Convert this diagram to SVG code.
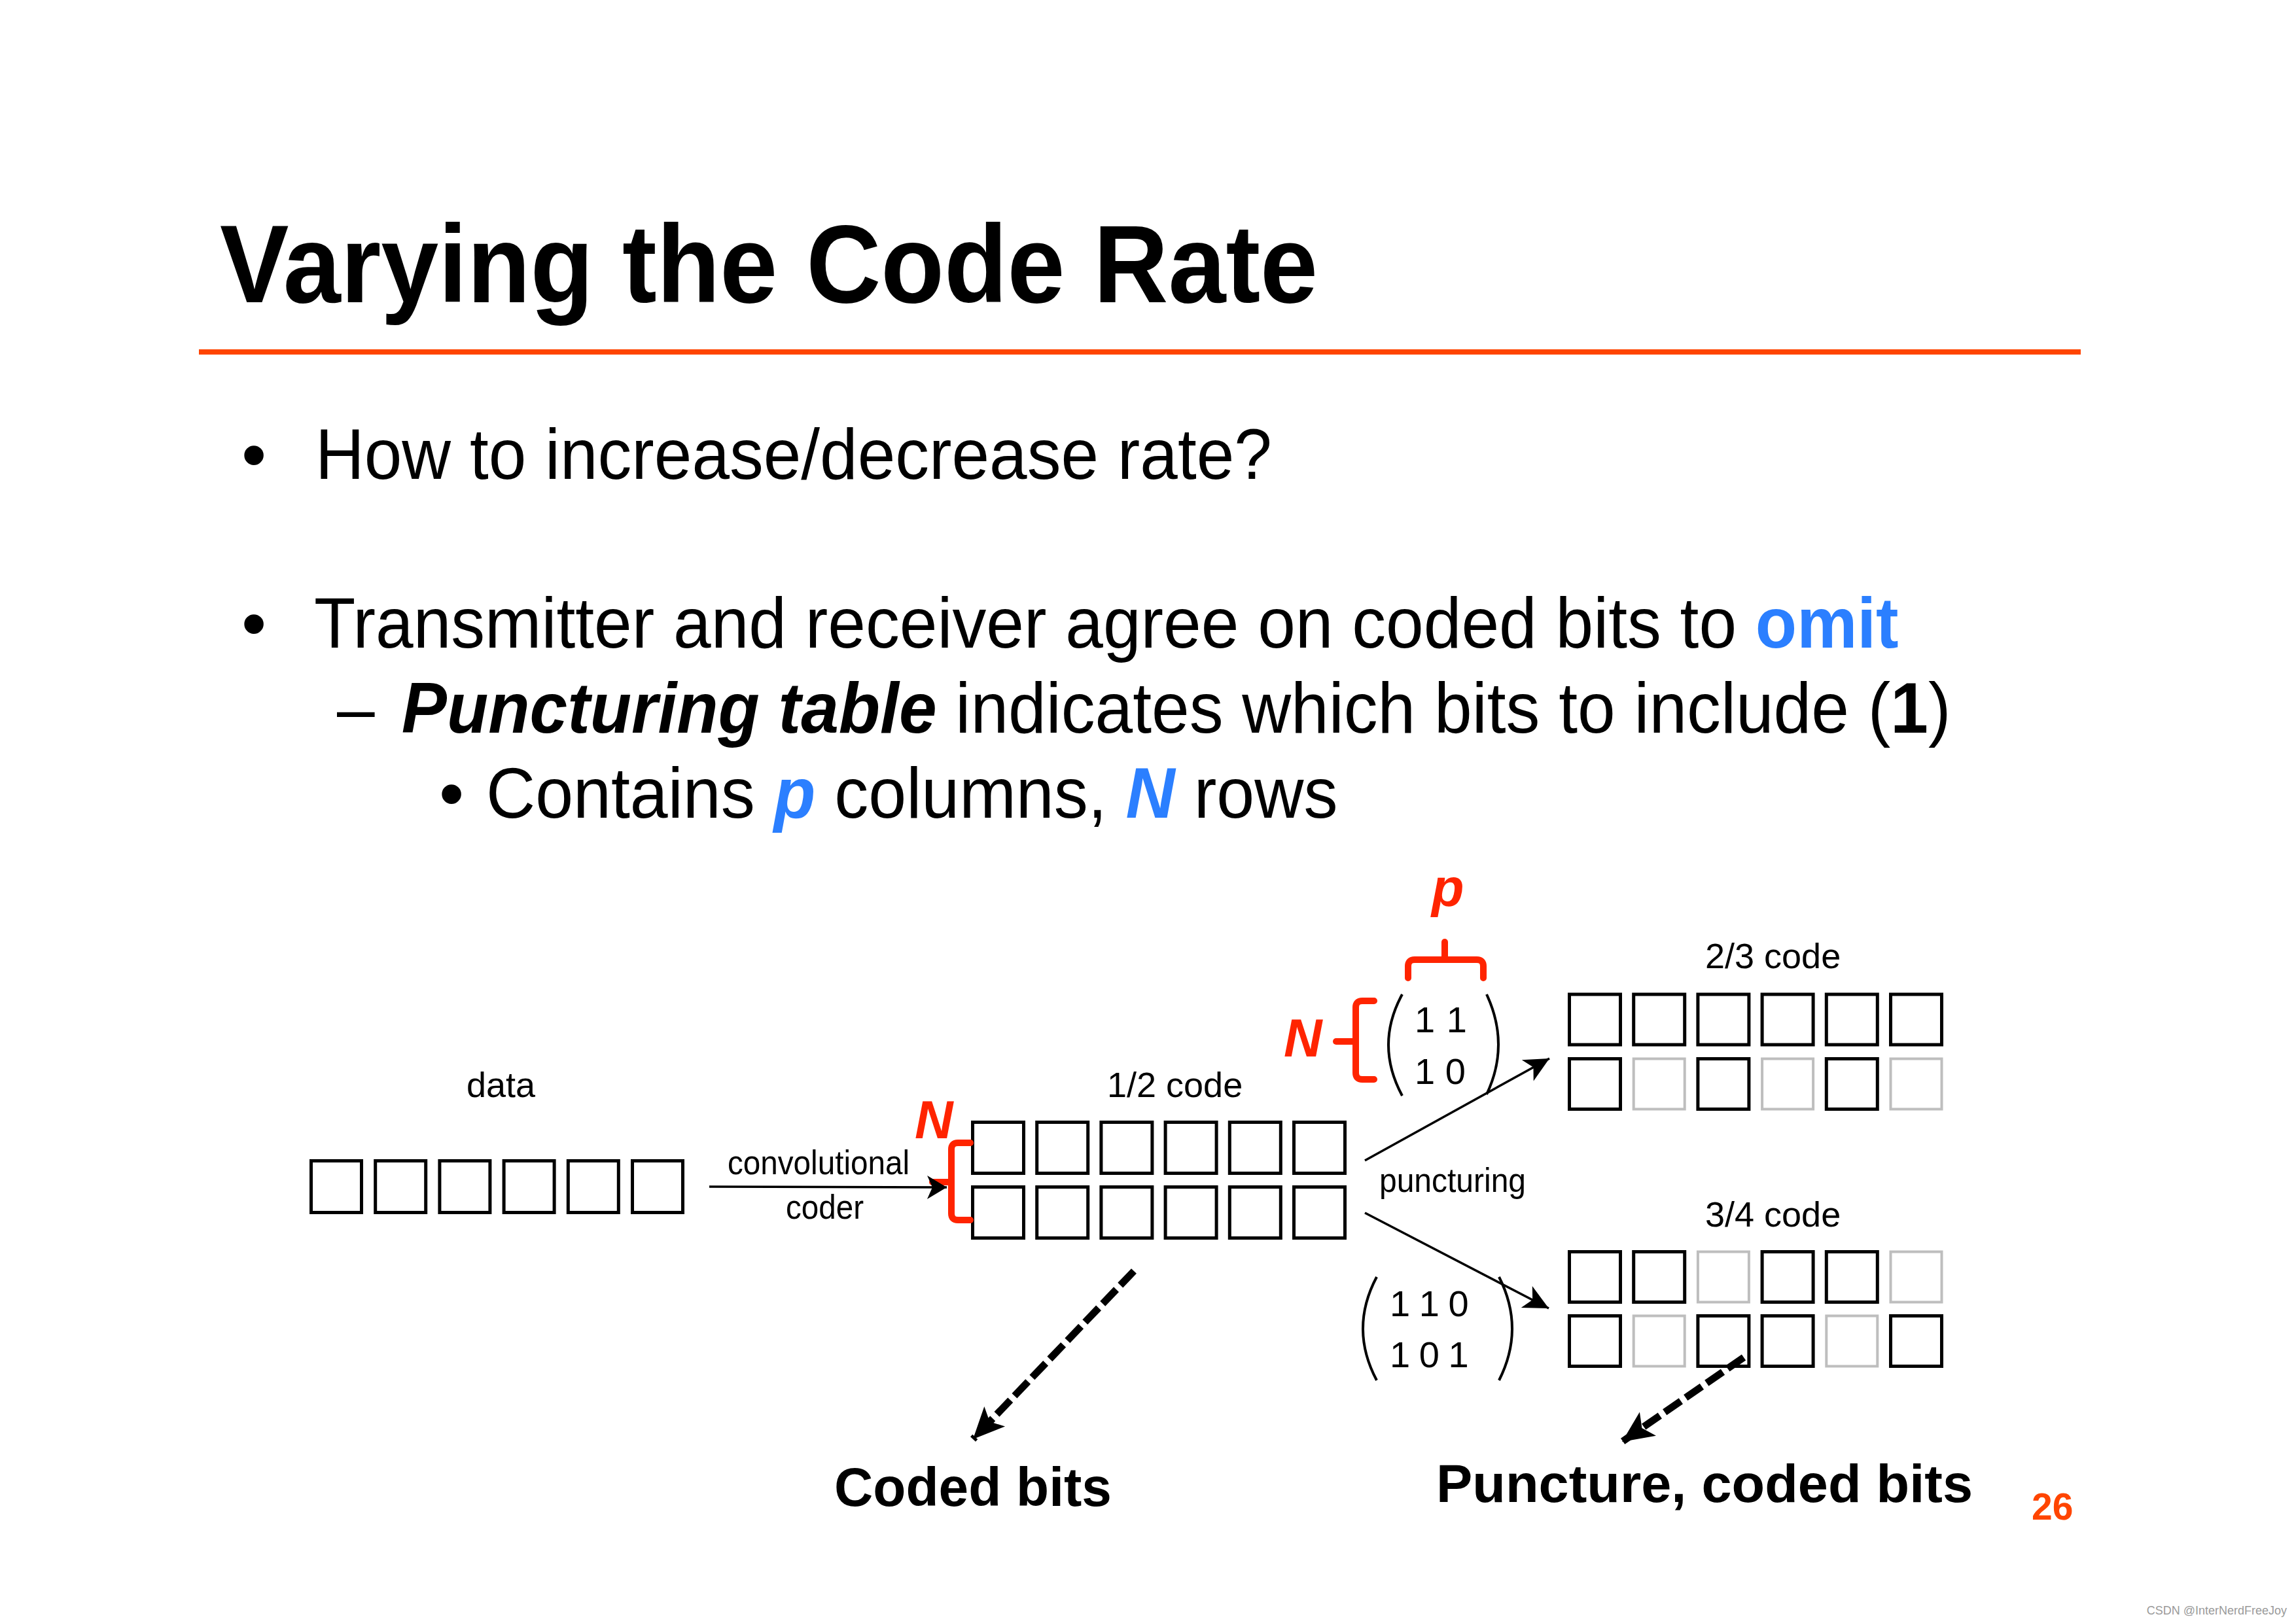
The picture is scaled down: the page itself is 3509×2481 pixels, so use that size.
<svg xmlns="http://www.w3.org/2000/svg" width="3509" height="2481" viewBox="0 0 3509 2481">
<defs>
<style>
text{font-family:"Liberation Sans",Arial,Helvetica,sans-serif;fill:#000}
.title{font-size:168px;font-weight:bold}
.body{font-size:109px}
.bi{font-weight:bold;font-style:italic}
.b{font-weight:bold}
.blue{fill:#2B7FFF}
.red{fill:#FF2400;font-weight:bold;font-style:italic;font-size:81px}
.lbl{font-size:54px}
.sm{font-size:52px}
.dig{font-size:56px}
.big{font-size:84px;font-weight:bold}
.box{fill:none;stroke:#000;stroke-width:5}
.gbox{fill:none;stroke:#BEBEBE;stroke-width:4}
.brk{fill:none;stroke:#FF2400;stroke-width:10;stroke-linecap:round;stroke-linejoin:round}
.par{fill:none;stroke:#000;stroke-width:4}
.arr{fill:none;stroke:#000;stroke-width:3.5}
.dash{fill:none;stroke:#000;stroke-width:11;stroke-dasharray:30 9}
</style>
<marker id="ah" markerUnits="userSpaceOnUse" viewBox="-40 -20 42 40" markerWidth="42" markerHeight="40" refX="0" refY="0" orient="auto">
<path d="M0,0 L-38,-18.5 L-28,0 L-38,18.5 Z" fill="#000"/>
</marker>
<marker id="ahs" markerUnits="userSpaceOnUse" viewBox="-32 -20 34 40" markerWidth="34" markerHeight="40" refX="0" refY="0" orient="auto">
<path d="M0,0 L-30,-18 L-22,0 L-30,18 Z" fill="#000"/>
</marker>
<marker id="ahb" markerUnits="userSpaceOnUse" viewBox="-50 -25 52 50" markerWidth="52" markerHeight="50" refX="0" refY="0" orient="auto">
<path d="M0,0 L-48,-22 L-37,0 L-48,22 Z" fill="#000"/>
</marker>
</defs>
<rect width="3509" height="2481" fill="#fff"/>

<g id="title">
<text class="title" x="336" y="462" textLength="1678" lengthAdjust="spacingAndGlyphs">Varying the Code Rate</text>
<line x1="304" y1="538" x2="3180" y2="538" stroke="#FF4500" stroke-width="8"/>
</g>

<g id="bullets">
<text class="body" x="369" y="732">•</text>
<text class="body" transform="translate(482,732) scale(0.95,1)">How to increase/decrease rate?</text>
<text class="body" x="369" y="990">•</text>
<text class="body" transform="translate(480,990) scale(0.951,1)">Transmitter and receiver agree on coded bits to <tspan class="b blue">omit</tspan></text>
<text class="body" transform="translate(515,1120) scale(0.951,1)">– <tspan class="bi" dx="13">Puncturing table</tspan> indicates which bits to include (<tspan class="b">1</tspan>)</text>
<text class="body" x="671" y="1250">•</text>
<text class="body" transform="translate(743,1250) scale(0.955,1)">Contains <tspan class="bi blue">p</tspan> columns, <tspan class="bi blue">N</tspan> rows</text>
</g>

<g id="data">
<text class="lbl" x="713" y="1677">data</text>
<rect class="box" x="475.5" y="1774.5" width="77" height="79"/>
<rect class="box" x="573.7" y="1774.5" width="77" height="79"/>
<rect class="box" x="671.9" y="1774.5" width="77" height="79"/>
<rect class="box" x="770.1" y="1774.5" width="77" height="79"/>
<rect class="box" x="868.3" y="1774.5" width="77" height="79"/>
<rect class="box" x="966.5" y="1774.5" width="77" height="79"/>
</g>

<g id="coder-label">
<text class="sm" x="1112" y="1795" textLength="278" lengthAdjust="spacingAndGlyphs">convolutional</text>
<text class="sm" x="1201" y="1863" textLength="119" lengthAdjust="spacingAndGlyphs">coder</text>
</g>

<g id="half-code">
<text class="lbl" x="1692" y="1677">1/2 code</text>
<rect class="box" x="1486.5" y="1715.5" width="78" height="78"/>
<rect class="box" x="1584.7" y="1715.5" width="78" height="78"/>
<rect class="box" x="1682.9" y="1715.5" width="78" height="78"/>
<rect class="box" x="1781.1" y="1715.5" width="78" height="78"/>
<rect class="box" x="1879.3" y="1715.5" width="78" height="78"/>
<rect class="box" x="1977.5" y="1715.5" width="78" height="78"/>
<rect class="box" x="1486.5" y="1814.5" width="78" height="78"/>
<rect class="box" x="1584.7" y="1814.5" width="78" height="78"/>
<rect class="box" x="1682.9" y="1814.5" width="78" height="78"/>
<rect class="box" x="1781.1" y="1814.5" width="78" height="78"/>
<rect class="box" x="1879.3" y="1814.5" width="78" height="78"/>
<rect class="box" x="1977.5" y="1814.5" width="78" height="78"/>
</g>

<g id="n-bracket-1">
<text class="red" x="1398" y="1740">N</text>
<path class="brk" d="M1483,1747 H1464 Q1454,1747 1454,1757 V1855 Q1454,1865 1464,1865 H1483"/>
<path class="brk" d="M1454,1807 H1425"/>
</g>

<g id="puncturing-label">
<text class="sm" x="2108" y="1822" textLength="224" lengthAdjust="spacingAndGlyphs">puncturing</text>
</g>

<g id="matrix-23">
<path class="par" d="M2143,1520 Q2101,1597 2143,1675"/>
<path class="par" d="M2272,1520 Q2308,1597 2272,1673"/>
<text class="dig" x="2162" y="1578" letter-spacing="1">1 1</text>
<text class="dig" x="2162" y="1657" letter-spacing="0">1 0</text>
</g>

<g id="p-bracket">
<text class="red" x="2188" y="1385">p</text>
<path class="brk" d="M2152,1495 V1477 Q2152,1467 2162,1467 H2257 Q2267,1467 2267,1477 V1495"/>
<path class="brk" d="M2208,1467 V1440"/>
</g>

<g id="n-bracket-2">
<text class="red" x="1962" y="1615">N</text>
<path class="brk" d="M2100,1530 H2082 Q2072,1530 2072,1540 V1640 Q2072,1650 2082,1650 H2100"/>
<path class="brk" d="M2072,1592 H2042"/>
</g>

<g id="code-23">
<text class="lbl" x="2606" y="1480">2/3 code</text>
<rect class="box" x="2398.5" y="1520" width="78" height="77"/>
<rect class="box" x="2496.7" y="1520" width="78" height="77"/>
<rect class="box" x="2594.9" y="1520" width="78" height="77"/>
<rect class="box" x="2693.1" y="1520" width="78" height="77"/>
<rect class="box" x="2791.3" y="1520" width="78" height="77"/>
<rect class="box" x="2889.5" y="1520" width="78" height="77"/>
<rect class="box" x="2398.5" y="1618.5" width="78" height="77"/>
<rect class="gbox" x="2496.7" y="1618.5" width="78" height="77"/>
<rect class="box" x="2594.9" y="1618.5" width="78" height="77"/>
<rect class="gbox" x="2693.1" y="1618.5" width="78" height="77"/>
<rect class="box" x="2791.3" y="1618.5" width="78" height="77"/>
<rect class="gbox" x="2889.5" y="1618.5" width="78" height="77"/>
</g>

<g id="code-34">
<text class="lbl" x="2606" y="1875">3/4 code</text>
<rect class="box" x="2398.5" y="1913.5" width="78" height="77"/>
<rect class="box" x="2496.7" y="1913.5" width="78" height="77"/>
<rect class="gbox" x="2594.9" y="1913.5" width="78" height="77"/>
<rect class="box" x="2693.1" y="1913.5" width="78" height="77"/>
<rect class="box" x="2791.3" y="1913.5" width="78" height="77"/>
<rect class="gbox" x="2889.5" y="1913.5" width="78" height="77"/>
<rect class="box" x="2398.5" y="2011.5" width="78" height="77"/>
<rect class="gbox" x="2496.7" y="2011.5" width="78" height="77"/>
<rect class="box" x="2594.9" y="2011.5" width="78" height="77"/>
<rect class="box" x="2693.1" y="2011.5" width="78" height="77"/>
<rect class="gbox" x="2791.3" y="2011.5" width="78" height="77"/>
<rect class="box" x="2889.5" y="2011.5" width="78" height="77"/>
</g>

<g id="matrix-34">
<path class="par" d="M2104,1952 Q2062,2031 2104,2110"/>
<path class="par" d="M2291,1952 Q2331,2031 2291,2110"/>
<text class="dig" x="2124" y="2012" letter-spacing="-1">1 1 0</text>
<text class="dig" x="2124" y="2090" letter-spacing="-1">1 0 1</text>
</g>

<g id="bottom-labels">
<text class="big" x="1275" y="2302" textLength="424" lengthAdjust="spacingAndGlyphs">Coded bits</text>
<text class="big" x="2195" y="2296" style="font-size:82px" textLength="820" lengthAdjust="spacingAndGlyphs">Puncture, coded bits</text>
</g>

<g id="page-number">
<text x="3105" y="2323" font-size="57" font-weight="bold" style="fill:#FF4500">26</text>
</g>

<g id="watermark">
<text x="3495" y="2468" font-size="18" text-anchor="end" style="fill:#9A9A9A">CSDN @InterNerdFreeJoy</text>
</g>

<g id="connectors">
<line class="arr" x1="1084" y1="1814" x2="1447" y2="1815" marker-end="url(#ahs)"/>
<line class="arr" x1="2086" y1="1774" x2="2368" y2="1618" marker-end="url(#ah)"/>
<line class="arr" x1="2086" y1="1854" x2="2367" y2="2000" marker-end="url(#ah)"/>
<line class="dash" x1="1733" y1="1943" x2="1487" y2="2200" marker-end="url(#ahb)"/>
<line class="dash" x1="2665" y1="2075" x2="2479" y2="2204" marker-end="url(#ahb)"/>
</g>
</svg>
